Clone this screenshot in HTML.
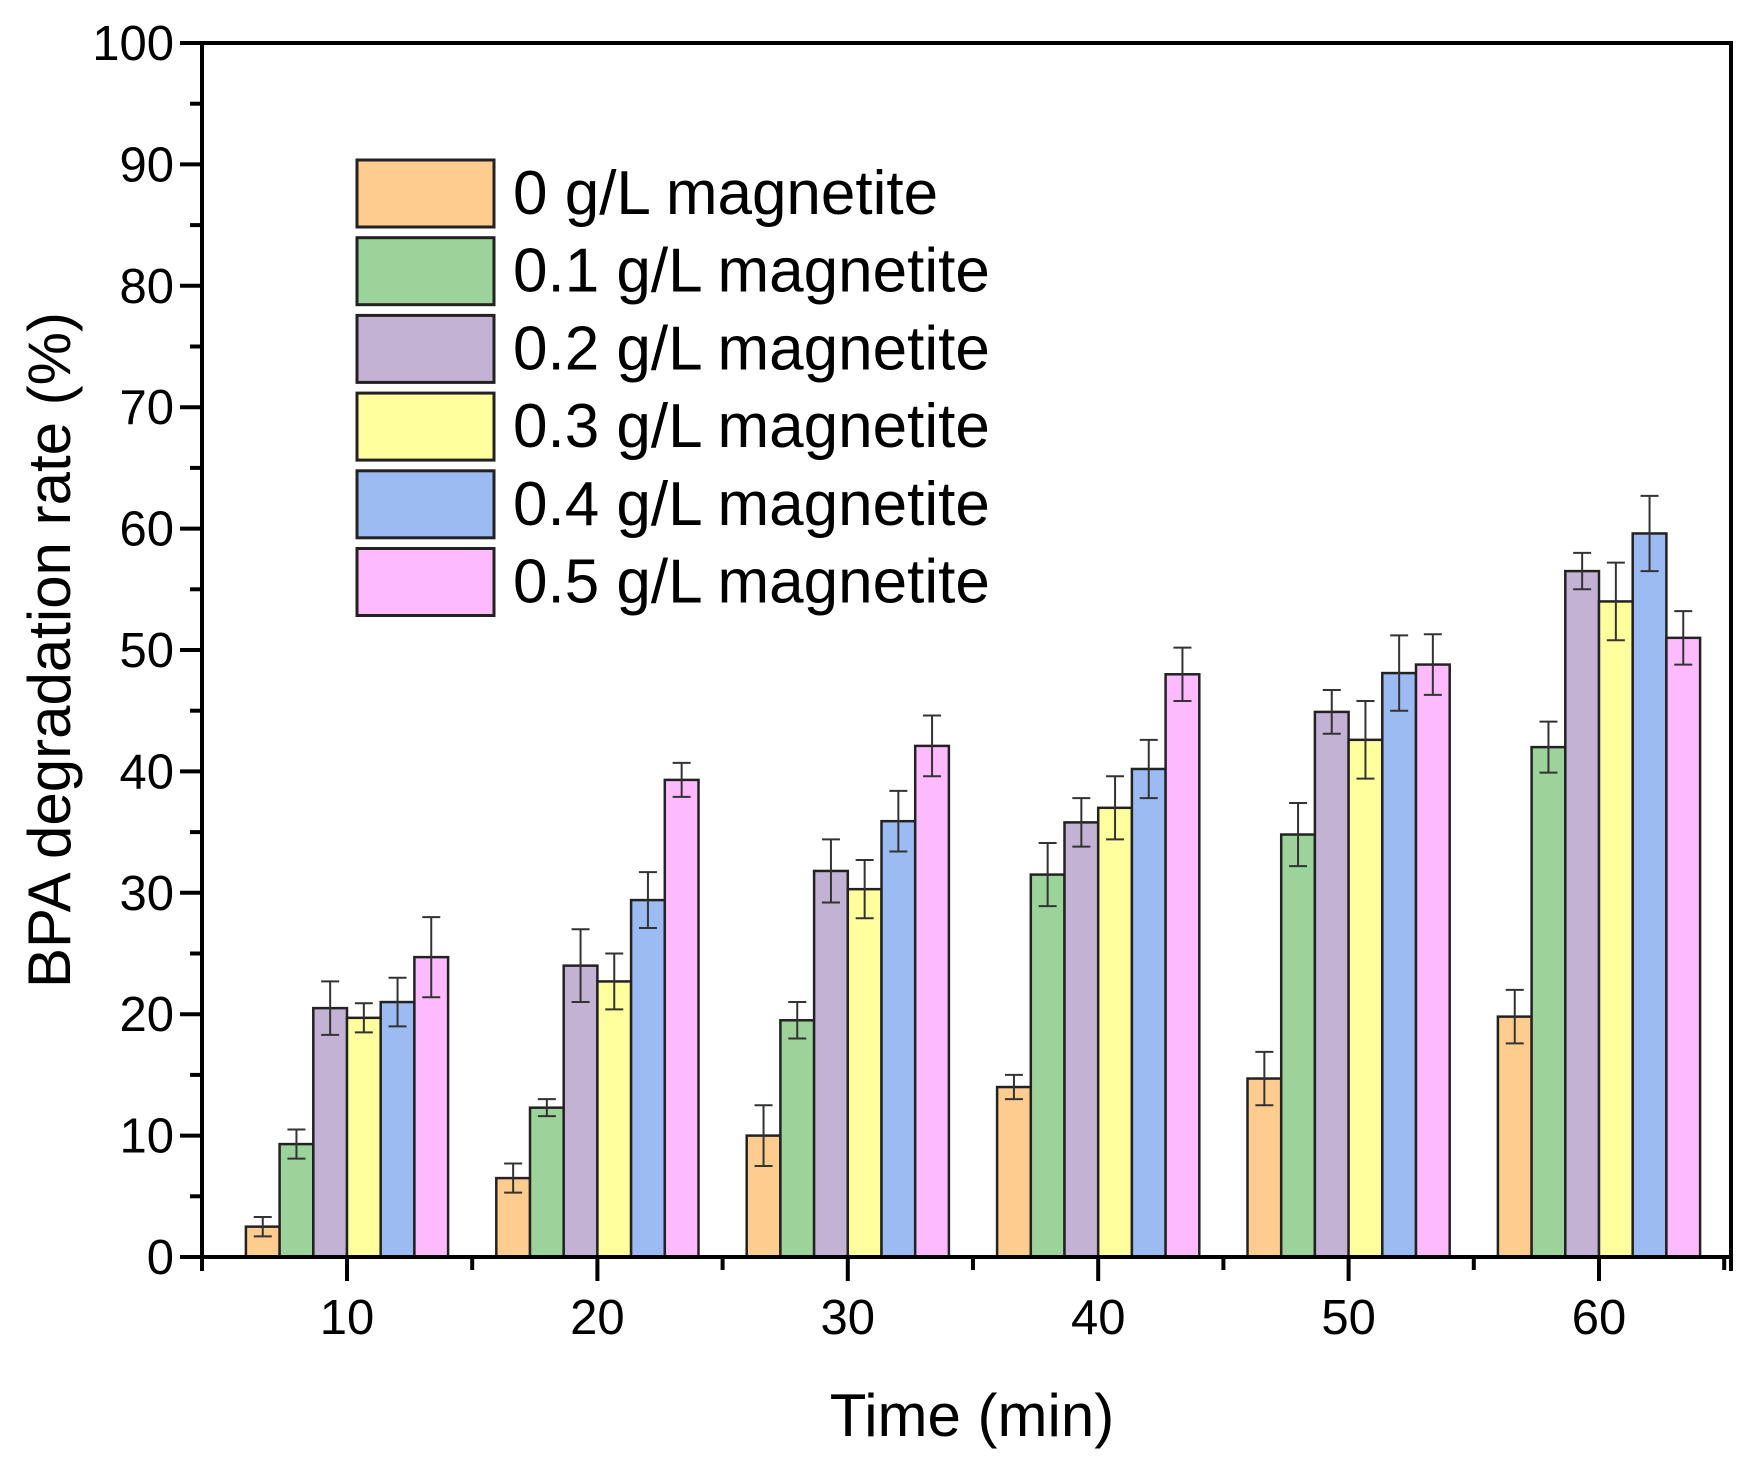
<!DOCTYPE html>
<html><head><meta charset="utf-8"><style>
html,body{margin:0;padding:0;background:#fff;}
svg{display:block;font-family:"Liberation Sans",Arial,sans-serif;}
</style></head><body>
<svg id="chart" width="1748" height="1463" viewBox="0 0 1748 1463"></svg>
<script>
const categories = [10, 20, 30, 40, 50, 60];
const seriesNames = ["0 g/L magnetite","0.1 g/L magnetite","0.2 g/L magnetite","0.3 g/L magnetite","0.4 g/L magnetite","0.5 g/L magnetite"];
const s0 = [2.5, 6.5, 10, 14, 14.7, 19.8];
const s1 = [9.3, 12.3, 19.5, 31.5, 34.8, 42];
const s2 = [20.5, 24, 31.8, 35.8, 44.9, 56.5];
const s3 = [19.7, 22.7, 30.3, 37, 42.6, 54];
const s4 = [21, 29.4, 35.9, 40.2, 48.1, 59.6];
const s5 = [24.7, 39.3, 42.1, 48, 48.8, 51];
const e0 = [0.8, 1.2, 2.5, 1.0, 2.2, 2.2];
const e1 = [1.2, 0.7, 1.5, 2.6, 2.6, 2.1];
const e2 = [2.2, 3.0, 2.6, 2.0, 1.8, 1.5];
const e3 = [1.2, 2.3, 2.4, 2.6, 3.2, 3.2];
const e4 = [2.0, 2.3, 2.5, 2.4, 3.1, 3.1];
const e5 = [3.3, 1.4, 2.5, 2.2, 2.5, 2.2];
const yTicks = [0,10,20,30,40,50,60,70,80,90,100];
const colors = ["#FFCC8F","#9BD39A","#C4B2D4","#FFFF9E","#9BBBF2","#FDBBFD"];

const series = [s0,s1,s2,s3,s4,s5];
const errs = [e0,e1,e2,e3,e4,e5];
const L=202, R=1731, T=43, B=1257;
const y = v => B - (v/100)*(B-T);
const x = c => 347 + (c-10)*25.04;
const bw = 33.7;
const NS="http://www.w3.org/2000/svg";
const svg=document.getElementById('chart');
function mk(tag, attrs, parent){const e=document.createElementNS(NS,tag);for(const k in attrs)e.setAttribute(k,attrs[k]);(parent||svg).appendChild(e);return e;}

categories.forEach((c,ci)=>{
  series.forEach((s,si)=>{
    const cx = x(c) + (si-2.5)*bw;
    const r = mk('rect',{x:cx-bw/2,y:y(s[ci]),width:bw,height:B-y(s[ci]),fill:colors[si],stroke:"#222","stroke-width":2.5});
    
    
    const ev=errs[si][ci], mid=cx;
    const g=mk('g',{stroke:"#333","stroke-width":2});
    
    
    mk('line',{x1:mid,x2:mid,y1:y(s[ci]+ev),y2:y(s[ci]-ev)},g);
    mk('line',{x1:mid-9,x2:mid+9,y1:y(s[ci]+ev),y2:y(s[ci]+ev)},g);
    mk('line',{x1:mid-9,x2:mid+9,y1:y(s[ci]-ev),y2:y(s[ci]-ev)},g);
  });
});

const ax=mk('g',{stroke:"#000","stroke-width":4,fill:"none"});


mk('line',{x1:L,x2:L,y1:T-2,y2:B+2},ax);
mk('line',{x1:L-2,x2:R+2,y1:B,y2:B},ax);
mk('line',{x1:L-2,x2:R+2,y1:T,y2:T},ax);
mk('line',{x1:R,x2:R,y1:T-2,y2:B+14},ax);
mk('line',{x1:L,x2:L,y1:B,y2:B+14},ax);

yTicks.forEach(v=>{
  mk('line',{x1:L-22,x2:L,y1:y(v),y2:y(v),stroke:"#000","stroke-width":4});
  if(v<100) mk('line',{x1:L-12,x2:L,y1:y(v+5),y2:y(v+5),stroke:"#000","stroke-width":4});
  const t=mk('text',{x:L-28,y:y(v)+17,"text-anchor":"end","font-size":49,fill:"#000"});
  t.textContent=v;
  
  
});
categories.forEach(c=>{
  mk('line',{x1:x(c),x2:x(c),y1:B,y2:B+24,stroke:"#000","stroke-width":4});
  mk('line',{x1:x(c)+125.2,x2:x(c)+125.2,y1:B,y2:B+13,stroke:"#000","stroke-width":4});
  const t=mk('text',{x:x(c),y:1334,"text-anchor":"middle","font-size":49,fill:"#000"});
  t.textContent=c;
  
  
});

const xt=mk('text',{x:972,y:1436,"text-anchor":"middle","font-size":60,fill:"#000"});
xt.textContent="Time (min)";


const yt=mk('text',{x:0,y:0,"text-anchor":"middle","font-size":60,fill:"#000",transform:"translate(70,650) rotate(-90)"});
yt.textContent="BPA degradation rate (%)";



seriesNames.forEach((n,i)=>{
  const top=160+i*77.7;
  const g=mk('g',{});
  
  
  mk('rect',{x:357,y:top,width:137,height:67,fill:colors[i],stroke:"#222","stroke-width":3},g);
  const t=mk('text',{x:513,y:top+54,"font-size":62,fill:"#000"},g);
  t.textContent=n;
});
</script>
</body></html>
